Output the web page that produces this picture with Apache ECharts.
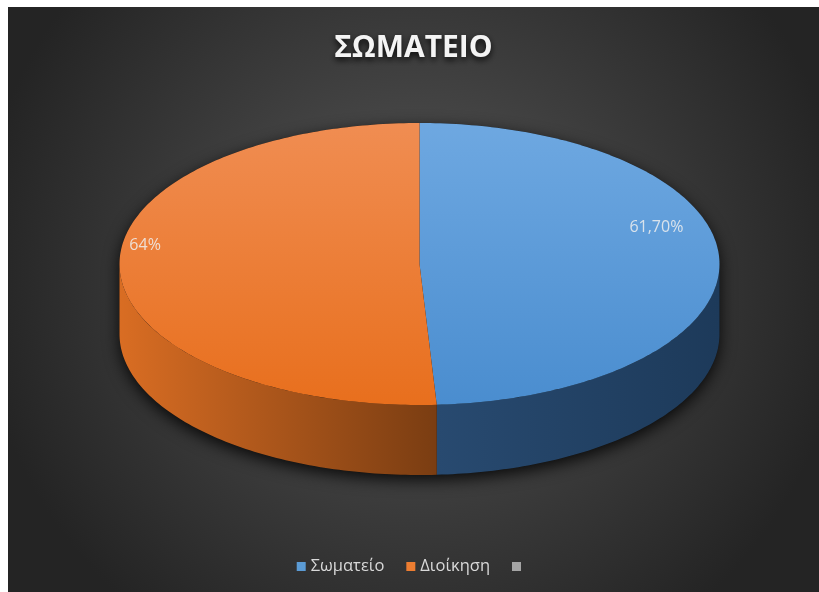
<!DOCTYPE html>
<html>
<head>
<meta charset="utf-8">
<script src="https://cdn.jsdelivr.net/npm/echarts@6/dist/echarts.min.js"></script>
<style>
  html, body { margin: 0; padding: 0; background: #ffffff; }
  #chart { position: absolute; left: 8px; top: 7px; width: 811px; height: 585px; }
</style>
</head>
<body>
<div id="chart"></div>
<script>
// Slice categories and their values (the last category is empty)
const categories = ['Σωματείο', 'Διοίκηση', ' '];
const values = [61.7, 64, null];
const labelTexts = ['61,70%', '64%', ''];

// Colours per slice: top-face gradient, side-wall gradient, legend swatch
const topFill = [['#6ea8e1', '#4a8dcf'], ['#f08d52', '#e86f1d'], ['#b0b0b0', '#a0a0a0']];
const sideFill = [['#284a70', '#1d3a5a'], ['#d96d23', '#7a3d12'], ['#777', '#555']];
const swatch = ['#5b9bd5', '#ed7d31', '#a5a5a5'];

// Ellipse geometry of the 3-D disc (pixels inside the chart box)
const CX = 411.5, CY = 257, RA = 300, RB = 141, DEPTH = 70;
// Label anchor: fraction of the radius along the slice mid angle, plus vertical lift
const labelAnchor = [{ r: 0.79, lift: -33 }, { r: 0.915, lift: -22 }, { r: 0.8, lift: 0 }];

function pt(t, dy) {
  return [CX + RA * Math.sin(t), CY - RB * Math.cos(t) + (dy || 0)];
}
function arc(t0, t1, dy) {
  const n = Math.max(2, Math.ceil(Math.abs(t1 - t0) / (Math.PI / 180)));
  const pts = [];
  for (let i = 0; i <= n; i++) pts.push(pt(t0 + (t1 - t0) * i / n, dy));
  return pts;
}

const total = values.reduce((s, v) => s + (v || 0), 0);
function startAngle(idx) {
  let acc = 0;
  for (let i = 0; i < idx; i++) acc += values[i] || 0;
  return acc / total * Math.PI * 2;
}

function makeRender(k) {
  return function (params, api) {
    const v = api.value(0);
    if (!v) return null;
    const t0 = startAngle(k);
    const t1 = t0 + v / total * Math.PI * 2;
    const children = [];

    // soft drop shadow under the whole disc (drawn once)
    if (k === 0) {
      const sil = arc(-Math.PI / 2, Math.PI / 2, 0).concat(arc(Math.PI / 2, Math.PI * 1.5, DEPTH));
      children.push({
        type: 'polygon', z2: 0,
        shape: { points: sil },
        style: { fill: '#111', shadowBlur: 16, shadowColor: 'rgba(0,0,0,0.85)', shadowOffsetY: 5 }
      });
    }

    // visible side wall (front half only)
    const s = Math.max(t0, Math.PI / 2), e = Math.min(t1, Math.PI * 1.5);
    if (s < e) {
      const pts = arc(s, e, 0).concat(arc(e, s, DEPTH));
      const xs = pts.map(p => p[0]);
      children.push({
        type: 'polygon', z2: 1,
        shape: { points: pts },
        style: {
          fill: {
            type: 'linear', global: true,
            x: Math.min.apply(null, xs), y: 0, x2: Math.max.apply(null, xs), y2: 0,
            colorStops: [{ offset: 0, color: sideFill[k][0] }, { offset: 1, color: sideFill[k][1] }]
          }
        }
      });
    }

    // top face
    children.push({
      type: 'polygon', z2: 2,
      shape: { points: [[CX, CY]].concat(arc(t0, t1, 0)) },
      style: {
        fill: {
          type: 'linear', global: true,
          x: 0, y: CY - RB, x2: 0, y2: CY + RB,
          colorStops: [{ offset: 0, color: topFill[k][0] }, { offset: 1, color: topFill[k][1] }]
        }
      }
    });

    // data label
    const mid = (t0 + t1) / 2;
    const an = labelAnchor[k];
    children.push({
      type: 'text', z2: 3,
      x: CX + RA * an.r * Math.sin(mid),
      y: CY - RB * an.r * Math.cos(mid) + an.lift,
      style: {
        text: labelTexts[k],
        fill: 'rgba(238,238,238,0.85)',
        font: '16px "Open Sans", sans-serif',
        align: 'center', verticalAlign: 'middle'
      }
    });

    return { type: 'group', children: children };
  };
}

const chart = echarts.init(document.getElementById('chart'), null, { renderer: 'canvas' });
chart.setOption({
  animation: false,
  backgroundColor: {
    type: 'radial', x: 0.5, y: 0.45, r: 0.75,
    colorStops: [{ offset: 0, color: '#565656' }, { offset: 1, color: '#242424' }]
  },
  title: {
    text: 'ΣΩΜΑΤΕΙΟ',
    left: 'center', top: 21,
    textStyle: {
      color: '#f4f4f4', fontSize: 30, fontWeight: 'bold',
      fontFamily: '"Open Sans", sans-serif',
      textShadowColor: 'rgba(0,0,0,0.85)', textShadowBlur: 6, textShadowOffsetY: 3
    }
  },
  legend: {
    bottom: 12, left: 'center',
    icon: 'rect', itemWidth: 9, itemHeight: 9, itemGap: 22,
    selectedMode: false,
    textStyle: { color: '#d9d9d9', fontSize: 16.5, fontFamily: '"Open Sans", sans-serif' },
    data: categories
  },
  series: categories.map((name, k) => ({
    type: 'custom',
    name: name,
    coordinateSystem: 'none',
    itemStyle: { color: swatch[k] },
    renderItem: makeRender(k),
    data: values[k] == null ? [] : [[values[k]]]
  }))
});
</script>
</body>
</html>
